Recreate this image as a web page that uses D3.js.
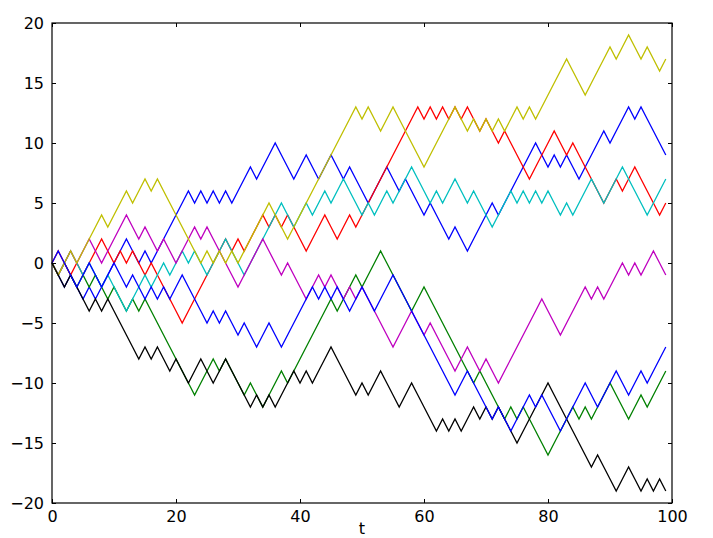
<!DOCTYPE html>
<html><head><meta charset="utf-8">
<script src="https://cdn.jsdelivr.net/npm/d3@7"></script>
<style>body{margin:0;background:#fff}svg{display:block}text{font-family:"DejaVu Sans",sans-serif}</style>
</head><body>
<svg id="c" width="713" height="538"></svg>
<script>
const xTicks = [0, 20, 40, 60, 80, 100];
const yTicks = [-20, -15, -10, -5, 0, 5, 10, 15, 20];
const seriesColors = ["#0000ff", "#008000", "#ff0000", "#00bfbf", "#bf00bf", "#bfbf00", "#000000", "#0000ff"];

const walkBlue1 = [0,-1,-2,-1,-2,-3,-2,-3,-2,-1, 0,1,2,1,0,1,0,1,2,3, 4,5,6,5,6,5,6,5,6,5, 6,7,8,7,8,9,10,9,8,7, 8,9,8,7,8,9,8,7,8,7, 6,5,6,7,8,7,6,7,6,5, 4,5,4,3,2,3,2,1,2,3, 4,5,4,5,6,7,8,9,10,9, 8,9,8,9,8,7,8,9,10,11, 10,11,12,13,12,13,12,11,10,9];
const walkGreen = [0,-1,0,-1,-2,-1,-2,-1,-2,-3, -2,-3,-4,-3,-4,-3,-4,-5,-6,-7, -8,-9,-10,-11,-10,-9,-8,-9,-8,-9, -10,-11,-10,-11,-12,-11,-10,-9,-10,-9, -8,-7,-6,-5,-4,-3,-4,-3,-2,-1, -2,-1,0,1,0,-1,-2,-3,-4,-3, -2,-3,-4,-5,-6,-7,-8,-9,-10,-9, -10,-11,-12,-13,-12,-13,-12,-13,-14,-15, -16,-15,-14,-13,-12,-13,-12,-13,-12,-11, -10,-11,-12,-13,-12,-11,-12,-11,-10,-9];
const walkRed = [0,1,0,-1,0,-1,0,1,2,1, 0,1,0,1,0,-1,0,-1,-2,-3, -4,-5,-4,-3,-2,-1,0,1,2,1, 2,1,2,3,4,3,4,3,4,3, 2,1,2,3,4,3,2,3,4,3, 4,5,6,7,8,9,10,11,12,13, 12,13,12,13,12,13,12,13,12,11, 12,11,10,11,10,9,8,7,8,9, 10,11,10,9,10,9,8,7,6,5, 6,7,6,7,8,7,6,5,4,5];
const walkCyan = [0,-1,0,1,0,-1,0,-1,-2,-1, -2,-3,-4,-3,-2,-1,-2,-1,0,-1, 0,1,0,1,0,-1,0,1,2,1, 0,-1,0,1,2,3,4,5,4,3, 4,5,4,5,6,5,6,7,6,5, 4,5,4,5,6,5,6,7,8,7, 6,5,6,5,6,7,6,5,6,5, 4,3,4,5,6,5,6,5,6,5, 6,5,4,5,4,5,6,7,6,5, 6,7,8,7,6,5,4,5,6,7];
const walkMagenta = [0,-1,0,1,0,1,2,1,0,1, 2,3,4,3,2,3,2,1,2,1, 0,1,2,3,2,3,2,1,0,-1, -2,-1,0,1,2,1,0,-1,0,-1, -2,-3,-2,-1,-2,-1,-2,-3,-2,-3, -2,-3,-4,-5,-6,-7,-6,-5,-4,-5, -6,-5,-6,-7,-8,-9,-8,-7,-8,-9, -8,-9,-10,-9,-8,-7,-6,-5,-4,-3, -4,-5,-6,-5,-4,-3,-2,-3,-2,-3, -2,-1,0,-1,0,-1,0,1,0,-1];
const walkYellow = [0,-1,0,1,0,1,2,3,4,3, 4,5,6,5,6,7,6,7,6,5, 4,3,2,1,0,1,0,1,0,1, 0,1,2,3,4,5,4,3,2,3, 4,5,6,7,8,9,10,11,12,13, 12,13,12,11,12,13,12,11,10,9, 8,9,10,11,12,13,12,11,12,11, 12,11,12,11,12,13,12,13,12,13, 14,15,16,17,16,15,14,15,16,17, 18,17,18,19,18,17,18,17,16,17];
const walkBlack = [0,-1,-2,-1,-2,-3,-4,-3,-4,-3, -4,-5,-6,-7,-8,-7,-8,-7,-8,-9, -8,-9,-10,-9,-8,-9,-10,-9,-8,-9, -10,-11,-12,-11,-12,-11,-12,-11,-10,-9, -10,-9,-10,-9,-8,-7,-8,-9,-10,-11, -10,-11,-10,-9,-10,-11,-12,-11,-10,-11, -12,-13,-14,-13,-14,-13,-14,-13,-12,-13, -12,-13,-12,-13,-14,-15,-14,-13,-12,-11, -10,-11,-12,-13,-14,-15,-16,-17,-16,-17, -18,-19,-18,-17,-18,-19,-18,-19,-18,-19];
const walkBlue2 = [0,1,0,-1,-2,-1,0,-1,-2,-1, 0,-1,-2,-1,-2,-3,-2,-3,-2,-3, -2,-1,-2,-3,-4,-5,-4,-5,-4,-5, -6,-5,-6,-7,-6,-5,-6,-7,-6,-5, -4,-3,-2,-3,-2,-3,-2,-3,-4,-3, -2,-3,-4,-3,-2,-1,-2,-3,-4,-5, -6,-7,-8,-9,-10,-11,-10,-9,-10,-11, -12,-13,-12,-13,-14,-13,-12,-11,-12,-11, -12,-13,-14,-13,-12,-11,-10,-11,-12,-11, -10,-9,-10,-11,-10,-9,-10,-9,-8,-7];

const walks = [walkBlue1, walkGreen, walkRed, walkCyan, walkMagenta, walkYellow, walkBlack, walkBlue2];

const svg = d3.select("#c");
const L = 52, R = 672, T = 23, B = 503;
const x = d3.scaleLinear().domain([0, 100]).range([L, R]);
const y = d3.scaleLinear().domain([-20, 20]).range([B, T]);

const line = d3.line().x((d, i) => x(i)).y(d => y(d));
const g = svg.append("g");
walks.forEach((w, k) => {
  g.append("path").attr("d", line(w)).attr("fill", "none")
    .attr("stroke", seriesColors[k]).attr("stroke-width", 1.3).attr("stroke-linejoin", "miter");
});

// frame
svg.append("rect").attr("x", L).attr("y", T).attr("width", R - L).attr("height", B - T)
  .attr("fill", "none").attr("stroke", "#000").attr("stroke-width", 1.2);

// axes
const fmt = d => d < 0 ? "\u2212" + Math.abs(d) : String(d);
const ax = svg.append("g").attr("transform", `translate(0,${B})`)
  .call(d3.axisBottom(x).tickValues(xTicks).tickSize(-4).tickPadding(8).tickFormat(fmt));
const axT = svg.append("g").attr("transform", `translate(0,${T})`)
  .call(d3.axisTop(x).tickValues(xTicks).tickSize(-4).tickFormat(""));
const ay = svg.append("g").attr("transform", `translate(${L},0)`)
  .call(d3.axisLeft(y).tickValues(yTicks).tickSize(-4).tickPadding(8).tickFormat(fmt));
const ayR = svg.append("g").attr("transform", `translate(${R},0)`)
  .call(d3.axisRight(y).tickValues(yTicks).tickSize(-4).tickFormat(""));
[ax, axT, ay, ayR].forEach(a => {
  a.select(".domain").remove();
  a.selectAll("line").attr("stroke", "#000").attr("stroke-width", 1);
  a.selectAll("text").attr("font-size", 16).attr("fill", "#000").style("font-family", "DejaVu Sans");
});
svg.append("text").attr("x", (L + R) / 2).attr("y", 534).attr("text-anchor", "middle")
  .attr("font-size", 16).text("t");
</script>
</body></html>
